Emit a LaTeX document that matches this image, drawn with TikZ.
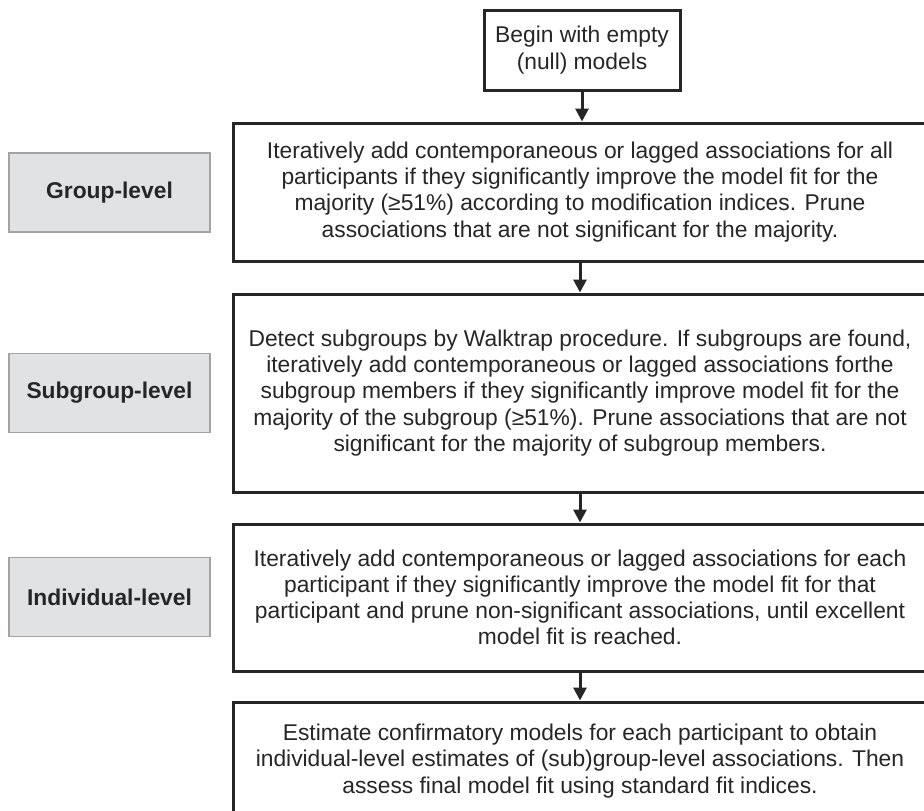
\documentclass[tikz,border=0pt]{standalone}
\usepackage{fontspec}
\setmainfont{Liberation Sans}
\usetikzlibrary{arrows.meta}
\definecolor{ink}{HTML}{262626}
\definecolor{labelfill}{HTML}{E1E2E4}
\definecolor{labeledge}{HTML}{A3A3A3}
\begin{document}
\begin{tikzpicture}[x=1pt,y=-1pt,
  stage/.style={draw=ink, line width=3pt, fill=white, align=center, text=ink,
    font=\fontsize{22.8}{26.2}\selectfont, inner sep=0pt},
  level/.style={draw=labeledge, line width=1.6pt, fill=labelfill, text=ink,
    font=\fontsize{22.8}{26}\selectfont\bfseries,
    minimum width=201pt, minimum height=79pt, inner sep=0pt},
  flow/.style={draw=ink, line width=3pt, -{Triangle[length=13pt,width=13pt]}}
]
\useasboundingbox (0,0) rectangle (924,811);
\clip (0,0) rectangle (924,811);

% process stages
\node[stage, minimum width=196pt, minimum height=80pt] (start) at (582,50)
  {Begin with empty\\(null) models};
\node[stage, minimum width=694pt, minimum height=138pt] (grp) at (580,192)
  {Iteratively add contemporaneous or lagged associations for all\\
   participants if they significantly improve the model fit for the\\
   majority (≥51\%) according to modification indices. Prune\\
   associations that are not significant for the majority.};
\node[stage, minimum width=694pt, minimum height=198pt] (sub) at (580,393)
  {Detect subgroups by Walktrap procedure. If subgroups are found,\\
   iteratively add contemporaneous or lagged associations forthe\\
   subgroup members if they significantly improve model fit for the\\
   majority of the subgroup (≥51\%). Prune associations that are not\\
   significant for the majority of subgroup members.};
\node[stage, minimum width=694pt, minimum height=147pt] (ind) at (580,597.5)
  {Iteratively add contemporaneous or lagged associations for each\\
   participant if they significantly improve the model fit for that\\
   participant and prune non-significant associations, until excellent\\
   model fit is reached.};
\node[stage, minimum width=694pt, minimum height=118pt] (final) at (580,761)
  {Estimate confirmatory models for each participant to obtain\\
   individual-level estimates of (sub)group-level associations. Then\\
   assess final model fit using standard fit indices.};

% level labels
\node[level] (lgrp) at (109.5,192.5) {Group-level};
\node[level] (lsub) at (109.5,393) {Subgroup-level};
\node[level] (lind) at (109.5,597) {Individual-level};

% connectors
\draw[flow] (start.south) -- (start.south |- grp.north);
\draw[flow] (grp.south) -- (sub.north);
\draw[flow] (sub.south) -- (ind.north);
\draw[flow] (ind.south) -- (final.north);
\end{tikzpicture}
\end{document}
